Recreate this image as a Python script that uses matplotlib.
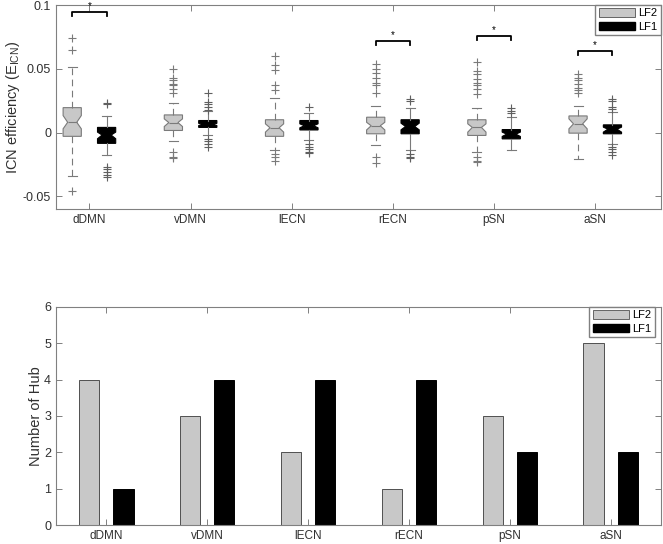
import matplotlib
matplotlib.use("Agg")
import matplotlib.pyplot as plt
from matplotlib.patches import Patch

plt.rcParams["font.family"] = ["Liberation Sans", "DejaVu Sans"]
plt.rcParams["mathtext.default"] = "regular"
plt.rcParams["font.size"] = 8

# 网络名称
groups = ["dDMN", "vDMN", "lECN", "rECN", "pSN", "aSN"]

# LF2 箱线图统计量
lf2_med = [0.008, 0.0078, 0.0037, 0.0053, 0.004, 0.0068]
lf2_q1 = [-0.003, 0.0016, -0.003, -0.001, -0.0023, -0.0005]
lf2_q3 = [0.0195, 0.0138, 0.010, 0.012, 0.010, 0.013]
lf2_whislo = [-0.034, -0.007, -0.014, -0.010, -0.015, -0.0205]
lf2_whishi = [0.051, 0.023, 0.027, 0.021, 0.019, 0.021]
lf2_cilo = [0.0029, 0.0047, 0.0003, 0.002, 0.0003, 0.0029]
lf2_cihi = [0.0133, 0.0107, 0.0068, 0.008, 0.0068, 0.0107]
lf2_fliers = [
    [0.074, 0.065, -0.046],
    [0.050, 0.043, 0.041, 0.038, 0.037, 0.034, 0.031, -0.015, -0.019, -0.020],
    [0.060, 0.053, 0.049, 0.037, 0.033, -0.017, -0.019, -0.022],
    [0.054, 0.050, 0.047, 0.043, 0.039, 0.037, 0.031, -0.019, -0.024],
    [0.055, 0.048, 0.046, 0.042, 0.039, 0.037, 0.034, 0.030, -0.019, -0.022, -0.023],
    [0.046, 0.043, 0.041, 0.038, 0.035, 0.033, 0.031],
]

# LF1 箱线图统计量
lf1_med = [-0.002, 0.0063, 0.0053, 0.0047, -0.0013, 0.0026]
lf1_q1 = [-0.0085, 0.004, 0.002, -0.001, -0.005, -0.001]
lf1_q3 = [0.004, 0.0094, 0.0094, 0.010, 0.0023, 0.006]
lf1_whislo = [-0.018, -0.0023, -0.006, -0.014, -0.014, -0.009]
lf1_whishi = [0.013, 0.0167, 0.015, 0.019, 0.012, 0.016]
lf1_cilo = [-0.0049, 0.0055, 0.0037, 0.0021, -0.0031, 0.0003]
lf1_cihi = [0.0003, 0.0072, 0.0068, 0.0073, 0.0003, 0.0042]
lf1_fliers = [
    [0.022, 0.023, -0.027, -0.029, -0.031, -0.033, -0.035],
    [0.031, 0.024, 0.022, 0.020, 0.018, -0.005, -0.007, -0.009, -0.011],
    [0.020, -0.009, -0.011, -0.013, -0.015, -0.016],
    [0.025, 0.026, -0.017, -0.019, -0.020],
    [0.019, 0.017, 0.015],
    [0.026, 0.025, 0.020, 0.0185, -0.0115, -0.013, -0.015, -0.018],
]

# 显著性标记所在的高度（None 表示不显著）
sig_levels = [0.0945, None, None, 0.0719, 0.0758, 0.064]

# 枢纽数量
lf2_hubs = [4, 3, 2, 1, 3, 5]
lf1_hubs = [1, 4, 4, 4, 2, 2]

gray = "#c8c8c8"
edge = "#7a7a7a"
spine_c = "#808080"
text_c = "#303030"


def make_stats(med, q1, q3, lo, hi, cilo, cihi, fliers):
    stats = []
    for i in range(len(med)):
        stats.append(dict(med=med[i], q1=q1[i], q3=q3[i], whislo=lo[i], whishi=hi[i],
                          cilo=cilo[i], cihi=cihi[i], fliers=fliers[i]))
    return stats


def style_axes(ax):
    for s in ax.spines.values():
        s.set_color(spine_c)
        s.set_linewidth(0.8)
    ax.tick_params(direction="in", length=4, width=0.7, color=spine_c, labelcolor=text_c,
                   top=True, right=True)
    ax.tick_params(axis="x", labelsize=8.5)
    ax.tick_params(axis="y", labelsize=9)


fig = plt.figure(figsize=(6.63, 5.44), dpi=100)
ax1 = fig.add_axes([0.0845, 0.6158, 0.9125, 0.375])
ax2 = fig.add_axes([0.0845, 0.0349, 0.9125, 0.4008])

x = list(range(1, len(groups) + 1))
off = 0.17
w = 0.18

# 上图：箱线图
ax1.bxp(make_stats(lf2_med, lf2_q1, lf2_q3, lf2_whislo, lf2_whishi, lf2_cilo, lf2_cihi, lf2_fliers),
        positions=[p - off for p in x], widths=w, shownotches=True, patch_artist=True,
        boxprops=dict(facecolor=gray, edgecolor=edge, linewidth=0.8),
        whiskerprops=dict(color=edge, linestyle=(0, (6, 4)), linewidth=0.8),
        capprops=dict(color=edge, linewidth=0.8),
        medianprops=dict(color=edge, linewidth=0.8),
        flierprops=dict(marker="+", markeredgecolor=edge, markersize=6, markeredgewidth=0.8),
        manage_ticks=False)
ax1.bxp(make_stats(lf1_med, lf1_q1, lf1_q3, lf1_whislo, lf1_whishi, lf1_cilo, lf1_cihi, lf1_fliers),
        positions=[p + off for p in x], widths=w, shownotches=True, patch_artist=True,
        boxprops=dict(facecolor="black", edgecolor="black", linewidth=0.8),
        whiskerprops=dict(color=edge, linewidth=0.8),
        capprops=dict(color=edge, linewidth=0.8),
        medianprops=dict(color="black", linewidth=0.8),
        flierprops=dict(marker="+", markeredgecolor="#606060", markersize=6, markeredgewidth=0.8),
        manage_ticks=False)

# 显著性括号
for i, lvl in enumerate(sig_levels):
    if lvl is None:
        continue
    x0, x1 = x[i] - off, x[i] + off
    ax1.plot([x0, x0, x1, x1], [lvl - 0.003, lvl, lvl, lvl - 0.003], color="black", lw=1.3)
    ax1.text(x[i], lvl + 0.0005, "*", ha="center", va="bottom", fontsize=7, color="black")

ax1.set_xlim(0.67, 6.65)
ax1.set_ylim(-0.06, 0.1)
ax1.set_xticks(x)
ax1.set_xticklabels(groups)
ax1.set_yticks([-0.05, 0, 0.05, 0.1])
ax1.set_yticklabels(["-0.05", "0", "0.05", "0.1"])
ax1.set_ylabel("ICN efficiency (E$_{ICN}$)", color=text_c, fontsize=10.5)
ax1.yaxis.set_label_coords(-0.057, 0.5)
style_axes(ax1)
handles = [Patch(facecolor=gray, edgecolor="#505050", linewidth=0.6),
           Patch(facecolor="black", edgecolor="black")]
ax1.legend(handles, ["LF2", "LF1"], loc="upper right", bbox_to_anchor=(1.0, 1.0),
           borderaxespad=0, fancybox=False, edgecolor=spine_c, handlelength=3.3,
           handleheight=0.8, labelspacing=0.3, handletextpad=0.3, borderpad=0.3,
           fontsize=8, framealpha=1)

# 下图：柱状图
bw = 0.2
ax2.bar([p - off for p in x], lf2_hubs, width=bw, color=gray, edgecolor="#505050", linewidth=0.7)
ax2.bar([p + off for p in x], lf1_hubs, width=bw, color="black", edgecolor="black", linewidth=0.7)
ax2.set_xlim(0.5, 6.5)
ax2.set_ylim(0, 6)
ax2.set_xticks(x)
ax2.set_xticklabels(groups)
ax2.set_yticks(range(0, 7))
ax2.set_ylabel("Number of Hub", color=text_c, fontsize=10.5)
ax2.yaxis.set_label_coords(-0.022, 0.5)
style_axes(ax2)
ax2.legend(handles, ["LF2", "LF1"], loc="upper right", bbox_to_anchor=(0.99, 1.0),
           borderaxespad=0, fancybox=False, edgecolor=spine_c, handlelength=3.3,
           handleheight=0.8, labelspacing=0.3, handletextpad=0.3, borderpad=0.3,
           fontsize=8, framealpha=1)

fig.savefig("out.png", dpi=100)
